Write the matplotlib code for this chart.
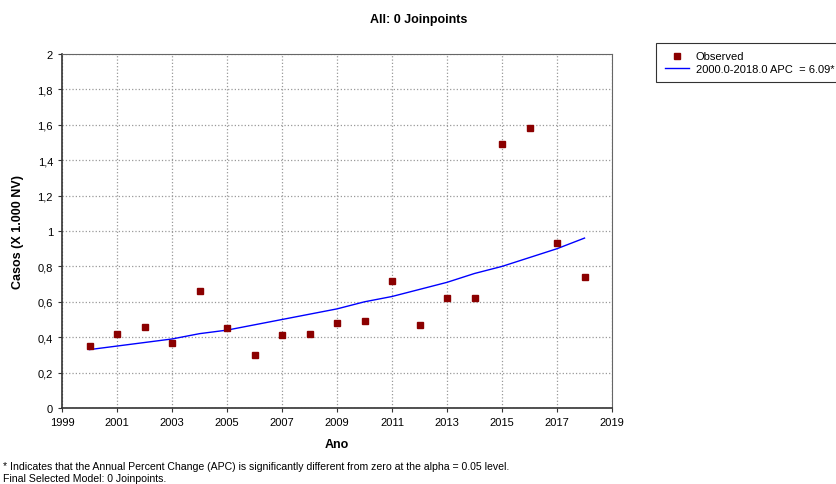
import numpy as np
import matplotlib.pyplot as plt
from matplotlib.ticker import FuncFormatter

years = list(range(2000, 2019))
observed = [0.35, 0.42, 0.46, 0.37, 0.66, 0.45, 0.30, 0.41, 0.42, 0.48,
            0.49, 0.72, 0.47, 0.62, 0.62, 1.49, 1.58, 0.93, 0.74]
# modelled values
fitted = [0.33, 0.35, 0.37, 0.39, 0.42, 0.44, 0.47, 0.50, 0.53, 0.56,
          0.60, 0.63, 0.67, 0.71, 0.76, 0.80, 0.85, 0.90, 0.96]
x_ticks = list(range(1999, 2020, 2))
y_ticks = [0, 0.2, 0.4, 0.6, 0.8, 1.0, 1.2, 1.4, 1.6, 1.8, 2.0]

plt.rcParams['font.family'] = ['Liberation Sans', 'DejaVu Sans']

fig = plt.figure(figsize=(8.37, 4.85), dpi=100)
ax = fig.add_axes([0.0741, 0.1567, 0.6571, 0.7299])

ax.plot(years, fitted, color='#0000ff', lw=1, label='2000.0-2018.0 APC  = 6.09*', zorder=3)
ax.plot(years, observed, ls='none', marker='s', ms=4.5, color='#8b0000',
        label='Observed', zorder=4)

ax.set_xlim(1999, 2019)
ax.set_ylim(0, 2)
ax.set_xticks(x_ticks)
ax.set_yticks(y_ticks)
ax.yaxis.set_major_formatter(FuncFormatter(lambda v, p: ('%g' % round(v, 1)).replace('.', ',')))
ax.tick_params(labelsize=8, length=3, width=0.8, colors='#333333', labelcolor='black')
ax.grid(True, color='#999999', ls=':', lw=0.9)
for s in ['top', 'right']:
    ax.spines[s].set_color('#666666')
    ax.spines[s].set_linewidth(0.8)
for s in ['left', 'bottom']:
    ax.spines[s].set_color('#333333')
    ax.spines[s].set_linewidth(1.2)

ax.set_xlabel('Ano', fontsize=9, fontweight='bold', labelpad=8)
ax.set_ylabel('Casos (X 1.000 NV)', fontsize=9, fontweight='bold', labelpad=10)
fig.text(0.5, 0.958, 'All: 0 Joinpoints', ha='center', va='center', fontsize=9, fontweight='bold')

handles, labels = ax.get_legend_handles_labels()
leg = fig.legend(handles[::-1], labels[::-1], loc='upper left', bbox_to_anchor=(0.784, 0.909),
                 fontsize=8, frameon=True, fancybox=False, edgecolor='black',
                 borderpad=0.75, labelspacing=0.2, handlelength=2.2, handletextpad=0.6,
                 borderaxespad=0)
leg.get_frame().set_linewidth(0.8)

fig.text(0.003, 0.037, '* Indicates that the Annual Percent Change (APC) is significantly different from zero at the alpha = 0.05 level.',
         fontsize=7.6, va='center')
fig.text(0.003, 0.012, 'Final Selected Model: 0 Joinpoints.', fontsize=7.6, va='center')

fig.savefig('out.png', dpi=100)
